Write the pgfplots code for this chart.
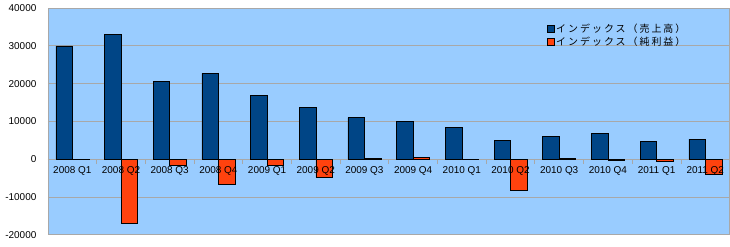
\documentclass[border=0pt]{standalone}
\usepackage{pgfplots}
\pgfplotsset{compat=1.18}
\usepackage{fontspec}
\setmainfont{Liberation Sans}
\newfontfamily\jp[LetterSpace=20]{Noto Sans CJK JP}
\definecolor{sblue}{HTML}{004586}
\definecolor{sorange}{HTML}{FF420E}
\definecolor{bgblue}{HTML}{99CCFF}
\definecolor{gridc}{HTML}{A8A8A8}
\begin{document}
\begin{tikzpicture}
\path (0,0) rectangle (730bp,247bp);
\begin{axis}[
  at={(48bp,12bp)}, anchor=south west,
  scale only axis, width=682bp, height=227bp,
  xmin=-0.5, xmax=13.5, ymin=-20000, ymax=40000,
  axis x line=middle, axis y line=left,
  axis line style={-, draw=gridc},
  hide obscured x ticks=false, hide obscured y ticks=false,
  axis background/.style={fill=bgblue},
  ybar=0pt, bar width=16.5bp,
  scaled y ticks=false,
  ytick={-20000,-10000,0,10000,20000,30000,40000},
  ymajorgrids, grid style={gridc, line width=0.8pt},
  ytick style={draw=none},
  xtick={0,...,13},
  xticklabels={},
  xtick style={draw=none},
  minor xtick={0.5,1.5,...,12.5},
  minor x tick style={draw=gridc, line width=0.8pt},
  xtick align=outside,
  minor tick length=5bp,
  tick label style={font=\fontsize{10}{12}\selectfont},
  yticklabel style={xshift=-6bp},
  /pgf/number format/assume math mode=true,
  /pgf/number format/.cd, set thousands separator={}, 
  /pgfplots/.cd,
  legend style={at={(0.73,0.945)}, anchor=north west, draw=none, fill=none,
    font=\jp\fontsize{10}{12}\selectfont, row sep=-0.5bp, inner sep=1bp},
  legend cell align=left,
  legend image code/.code={\draw[#1, draw=black, line width=0.5pt] (0bp,-3.5bp) rectangle (7bp,3.5bp);},
  clip=false,
]
\addplot[fill=sblue, draw=black, line width=0.5pt] coordinates {
(0,30000) (1,33000) (2,20600) (3,22700) (4,16900) (5,13700) (6,11000)
(7,10000) (8,8400) (9,5000) (10,6100) (11,6800) (12,4800) (13,5300)};
\addplot[fill=sorange, draw=black, line width=0.5pt] coordinates {
(0,-100) (1,-16900) (2,-1600) (3,-6600) (4,-1700) (5,-4800) (6,300)
(7,500) (8,-100) (9,-8300) (10,300) (11,-300) (12,-500) (13,-3900)};
\legend{インデックス（売上高）,インデックス（純利益）}
\begin{scope}[every node/.style={anchor=north, yshift=-3.5bp, font=\fontsize{10}{12}\selectfont}]
\node at (axis cs:0,0) {2008 Q1};
\node at (axis cs:1,0) {2008 Q2};
\node at (axis cs:2,0) {2008 Q3};
\node at (axis cs:3,0) {2008 Q4};
\node at (axis cs:4,0) {2009 Q1};
\node at (axis cs:5,0) {2009 Q2};
\node at (axis cs:6,0) {2009 Q3};
\node at (axis cs:7,0) {2009 Q4};
\node at (axis cs:8,0) {2010 Q1};
\node at (axis cs:9,0) {2010 Q2};
\node at (axis cs:10,0) {2010 Q3};
\node at (axis cs:11,0) {2010 Q4};
\node at (axis cs:12,0) {2011 Q1};
\node at (axis cs:13,0) {2011 Q2};
\end{scope}
\draw[gridc, line width=0.8pt] (rel axis cs:0,0) rectangle (rel axis cs:1,1);
\end{axis}
\end{tikzpicture}
\end{document}
